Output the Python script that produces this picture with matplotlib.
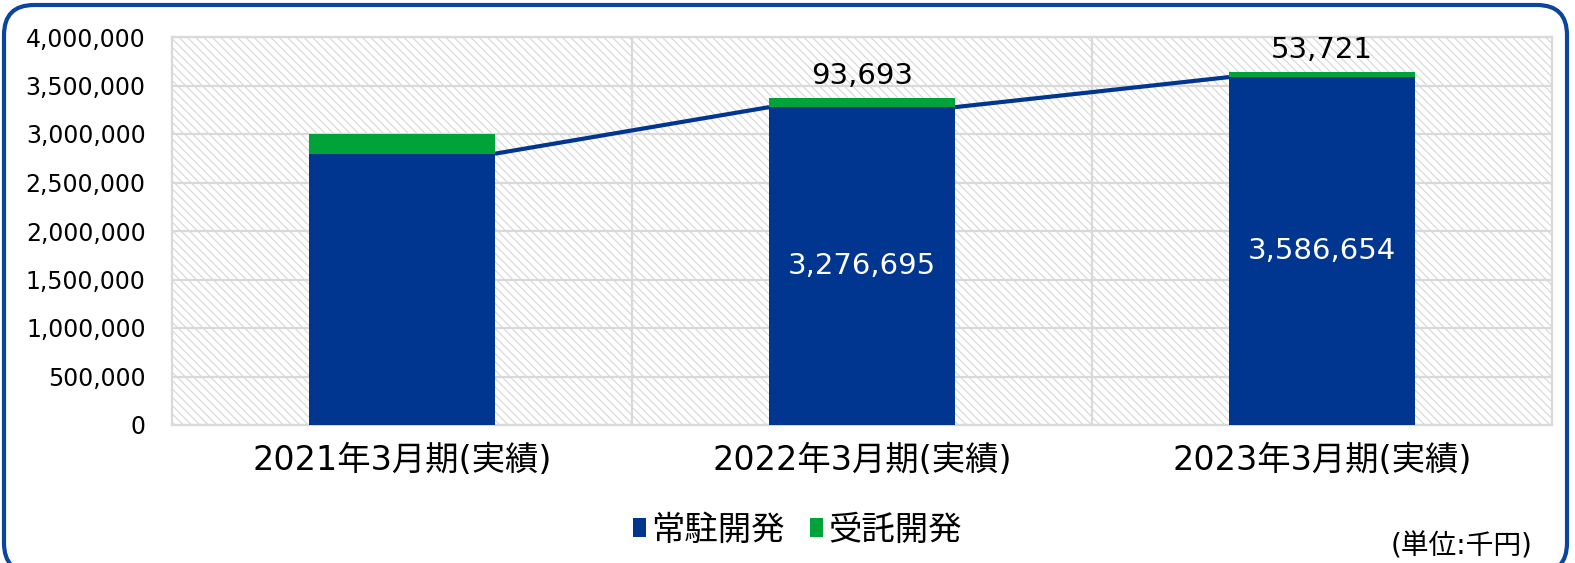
import matplotlib
matplotlib.use("Agg")
from matplotlib import pyplot as plt
from matplotlib.patches import Rectangle, FancyBboxPatch
from matplotlib.transforms import IdentityTransform
from matplotlib.ticker import FuncFormatter

plt.rcParams['font.family'] = ['DejaVu Sans', 'Noto Sans CJK JP']

# data (thousand yen)
categories = ["2021年3月期(実績)", "2022年3月期(実績)", "2023年3月期(実績)"]
joutyu = [2797000, 3276695, 3586654]    # 常駐開発
jutaku = [206000, 93693, 53721]         # 受託開発
show_label = [False, True, True]
series_names = ["常駐開発", "受託開発"]

BLUE = "#00368f"
GREEN = "#00a33a"
FRAME = "#0a45a0"


def main():
	plt.rcParams['hatch.color'] = '#d6d6d6'
	plt.rcParams['hatch.linewidth'] = 0.8

	fig = plt.figure(figsize=(15.75, 5.63), dpi=100)

	# rounded frame around the whole chart (pixel coords, origin bottom-left)
	frame = FancyBboxPatch((4, -10), 1563, 568,
						   boxstyle="round,pad=0,rounding_size=30",
						   transform=IdentityTransform(), facecolor="none",
						   edgecolor=FRAME, linewidth=3)
	fig.patches.append(frame)

	ax = fig.add_axes([172 / 1575, (563 - 425) / 563, 1380 / 1575, 388 / 563])
	x = list(range(len(categories)))
	width = 0.404

	# hatched plot area background
	bg = Rectangle((0, 0), 1, 1, transform=ax.transAxes, facecolor="white",
				   hatch="\\" * 4, edgecolor="#d6d6d6", linewidth=0, zorder=0)
	ax.add_patch(bg)

	ax.bar(x, joutyu, width, color=BLUE, zorder=3, label=series_names[0])
	ax.bar(x, jutaku, width, bottom=joutyu, color=GREEN, zorder=3, label=series_names[1])

	# series lines between blue tops
	for i in range(len(x) - 1):
		ax.plot([x[i] + width / 2, x[i + 1] - width / 2], [joutyu[i], joutyu[i + 1]],
				color=BLUE, linewidth=3, zorder=2, solid_capstyle="butt")

	for i in x:
		if not show_label[i]:
			continue
		ax.text(i, joutyu[i] / 2, f"{joutyu[i]:,}", ha="center", va="center",
				color="white", fontsize=21, zorder=4)
		ax.annotate(f"{jutaku[i]:,}", (i, joutyu[i] + jutaku[i]), xytext=(0, 16),
					textcoords="offset points", ha="center", va="center",
					fontsize=21, color="black", zorder=4)

	ax.set_xlim(-0.5, 2.5)
	ax.set_ylim(0, 4000000)
	ax.set_yticks(range(0, 4000001, 500000))
	ax.yaxis.set_major_formatter(FuncFormatter(lambda v, p: f"{int(v):,}"))
	ax.set_xticks(x)
	ax.set_xticklabels(categories, fontsize=24)
	ax.tick_params(axis="y", labelsize=17, length=0, pad=19)
	ax.tick_params(axis="x", length=0, pad=14)

	ax.set_axisbelow(True)
	ax.grid(axis="y", color="#d9d9d9", linewidth=1.6, zorder=1)
	for b in [0.5, 1.5]:
		ax.axvline(b, color="#d9d9d9", linewidth=1.6, zorder=1)
	for s in ax.spines.values():
		s.set_color("#d9d9d9")
		s.set_linewidth(1.6)

	fig.legend(loc="center", bbox_to_anchor=(797 / 1575, (563 - 530) / 563), ncol=2, frameon=False,
			   fontsize=24, handlelength=0.4, handleheight=0.5, handletextpad=0.15,
			   columnspacing=0.75, borderpad=0)
	fig.text(1462 / 1575, (563 - 546) / 563, "(単位:千円)", ha="center", va="center", fontsize=20)

	fig.savefig("out.png", dpi=100)


if __name__ == "__main__":
	main()
